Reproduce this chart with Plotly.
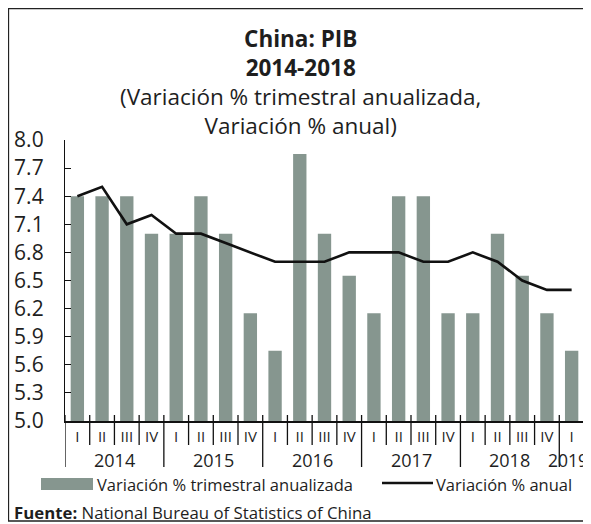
import plotly.graph_objects as go

# ---- data ----
years = ["2014", "2015", "2016", "2017", "2018", "2019"]
quarters = ["I", "II", "III", "IV"] * 5 + ["I"]
trimestral_anualizada = [7.4, 7.4, 7.4, 7.0,
                         7.0, 7.4, 7.0, 6.15,
                         5.75, 7.85, 7.0, 6.55,
                         6.15, 7.4, 7.4, 6.15,
                         6.15, 7.0, 6.55, 6.15,
                         5.75]
anual = [7.4, 7.5, 7.1, 7.2,
         7.0, 7.0, 6.9, 6.8,
         6.7, 6.7, 6.7, 6.8,
         6.8, 6.8, 6.7, 6.7,
         6.8, 6.7, 6.5, 6.4,
         6.4]
y_ticks = [5.0, 5.3, 5.6, 5.9, 6.2, 6.5, 6.8, 7.1, 7.4, 7.7, 8.0]

# ---- layout geometry (page has an 8px body margin) ----
OFF = 8
W, H = 591 - OFF, 524 - OFF
L, R, T, B = 65 - OFF, 7, 140 - OFF, 103
PW, PH = W - L - R, H - T - B
FONT = "Open Sans"
BAR_COLOR = "#86968f"
TXT = "#1e1e1e"


def px(xp):
    """reference-page x pixel -> paper coordinate"""
    return (xp - OFF - L) / PW


def py(yp):
    """reference-page y pixel -> paper coordinate"""
    return (H - B - (yp - OFF)) / PH


idx = list(range(len(quarters)))

fig = go.Figure()
fig.add_trace(go.Bar(x=idx, y=trimestral_anualizada, width=0.54,
                     marker=dict(color=BAR_COLOR, line=dict(width=0)),
                     name="Variación % trimestral anualizada", showlegend=False))
fig.add_trace(go.Scatter(x=idx, y=anual, mode="lines",
                         line=dict(color="#111111", width=2.6),
                         name="Variación % anual", showlegend=False))

shapes = []
n = len(quarters)
for i in range(0, n + 1):
    xb = i - 0.5
    is_year = (i % 4 == 0) and i < n
    bottom = py(467) if is_year else py(445)
    shapes.append(dict(type="line", xref="x", yref="paper", x0=xb, x1=xb,
                       y0=py(415), y1=bottom, line=dict(color="#111111", width=1.3)))
# border
shapes.append(dict(type="rect", xref="paper", yref="paper", x0=px(8.5), x1=px(587),
                   y0=py(521), y1=py(8.5), line=dict(color="#222222", width=1.3),
                   fillcolor="rgba(0,0,0,0)", layer="below"))
# legend swatches
shapes.append(dict(type="rect", xref="paper", yref="paper", x0=px(41), x1=px(93),
                   y0=py(490), y1=py(478), fillcolor=BAR_COLOR, line=dict(width=0)))
shapes.append(dict(type="line", xref="paper", yref="paper", x0=px(382), x1=px(433),
                   y0=py(483), y1=py(483), line=dict(color="#111111", width=2.4)))

ann = []
for k, yr in enumerate(years[:-1]):
    ann.append(dict(x=4 * k + 1.5, y=py(460), xref="x", yref="paper", text=yr,
                    showarrow=False, yanchor="middle",
                    font=dict(size=18, color=TXT, family=FONT)))
ann.append(dict(x=px(590), y=py(460), xref="paper", yref="paper", text=years[-1],
                showarrow=False, xanchor="right", yanchor="middle",
                font=dict(size=17.5, color=TXT, family=FONT)))
title_text = ("<span style='font-size:22.5px'><b>China: PIB</b></span><br>"
              "<span style='font-size:22.5px'><b>2014-2018</b></span><br>"
              "<span style='font-size:22.5px'>(Variación % trimestral anualizada,</span><br>"
              "<span style='font-size:22.5px'>Variación % anual)</span>")
ann.append(dict(x=px(300), y=py(21), xref="paper", yref="paper", text=title_text,
                showarrow=False, xanchor="center", yanchor="top", align="center",
                font=dict(size=22.3, color=TXT, family=FONT)))
ann.append(dict(x=px(95), y=py(484), xref="paper", yref="paper",
                text="Variación % trimestral anualizada", showarrow=False,
                xanchor="left", yanchor="middle", font=dict(size=16.5, color=TXT, family=FONT)))
ann.append(dict(x=px(434), y=py(484), xref="paper", yref="paper",
                text="Variación % anual", showarrow=False,
                xanchor="left", yanchor="middle", font=dict(size=16.5, color=TXT, family=FONT)))
ann.append(dict(x=px(12), y=py(512), xref="paper", yref="paper",
                text="<b>Fuente:</b> National Bureau of Statistics of China", showarrow=False,
                xanchor="left", yanchor="middle", font=dict(size=16.8, color=TXT, family=FONT)))

fig.update_layout(
    width=W, height=H, autosize=False,
    margin=dict(l=L, r=R, t=T, b=B, autoexpand=False),
    paper_bgcolor="white", plot_bgcolor="white",
    font=dict(family=FONT, color=TXT),
    shapes=shapes, annotations=ann,
    showlegend=False,
)
fig.update_xaxes(range=[-0.5, n - 0.5], tickmode="array", tickvals=idx, ticktext=quarters,
                 ticks="", showgrid=False, zeroline=False, showline=True,
                 linecolor="#111111", linewidth=1.5,
                 tickfont=dict(size=15, color=TXT, family=FONT), ticklabelstandoff=1)
fig.update_yaxes(range=[5.0, 8.0], tickmode="array", tickvals=y_ticks,
                 ticktext=[f"{v:.1f}" for v in y_ticks],
                 ticks="inside", ticklen=6, tickcolor="#111111", tickwidth=1.2,
                 showgrid=False, zeroline=False, showline=True,
                 linecolor="#111111", linewidth=1.3,
                 tickfont=dict(size=21, color=TXT, family=FONT), ticklabelstandoff=16)

fig.write_html("out.html")
